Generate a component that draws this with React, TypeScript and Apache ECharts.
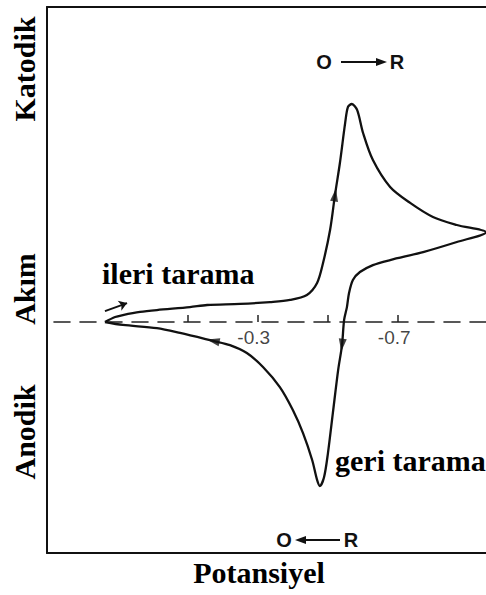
import React, { useEffect, useRef } from "react";
import * as echarts from "echarts";

// Potential (V) and current (µA, cathodic positive)
const potentialForward = [0.135, 0.106, 0.084, 0.035, -0.013, -0.107, -0.156, -0.25, -0.335, -0.392, -0.44, -0.469, -0.486, -0.506, -0.52, -0.534, -0.549, -0.557, -0.568, -0.583, -0.6, -0.628, -0.677, -0.734, -0.799, -0.867, -0.95];
const currentForward = [0, 0.24, 0.33, 0.48, 0.57, 0.71, 0.81, 0.86, 0.95, 1.05, 1.29, 1.86, 2.81, 4.38, 6.05, 7.57, 9.48, 10.24, 10.38, 10.1, 9.0, 7.71, 6.43, 5.67, 5.0, 4.62, 4.27];
const potentialReverse = [-0.867, -0.771, -0.677, -0.628, -0.591, -0.571, -0.56, -0.554, -0.546, -0.54, -0.529, -0.514, -0.5, -0.489, -0.477, -0.469, -0.455, -0.429, -0.4, -0.363, -0.315, -0.269, -0.221, -0.173, -0.079, -0.013, 0.084, 0.135];
const currentReverse = [3.81, 3.33, 2.95, 2.71, 2.38, 2.0, 1.38, 0.71, 0.1, -1.1, -2.29, -4.33, -6.24, -7.38, -7.81, -7.52, -6.57, -5.29, -4.19, -3.1, -2.14, -1.48, -1.1, -0.9, -0.52, -0.29, -0.14, 0];

// direction markers on the curve: [potential, current, rotation deg]
const arrowMarks: [number, number, number][] = [
  [-0.52, 6.05, -8],
  [-0.54, -1.1, 173],
  [-0.173, -0.9, 78],
];
// small "forward scan" arrow near start
const startArrowFrom = [0.135, 0.52];
const startArrowTo = [0.072, 0.9];

const tickValues = [-0.1, -0.3, -0.5, -0.7];
const labelValues = [-0.3, -0.7];

const xMin = -0.95;
const xMax = 0.3;
const yMin = -11;
const yMax = 15;

const serif = '"Liberation Serif", "Times New Roman", serif';
const sans = '"Liberation Sans", Arial, sans-serif';

export default function App() {
  const ref = useRef<HTMLDivElement>(null);
  useEffect(() => {
    if (!ref.current) return;
    const chart = echarts.init(ref.current, null, { renderer: "svg" });
    const curve: number[][] = [];
    potentialForward.forEach((e, k) => curve.push([e, currentForward[k]]));
    potentialReverse.forEach((e, k) => curve.push([e, currentReverse[k]]));

    const frameLine = { show: true, onZero: false, lineStyle: { color: "#111", width: 2 } };
    const baseX = {
      type: "value",
      min: xMin,
      max: xMax,
      inverse: true,
      splitLine: { show: false },
      axisTick: { show: false },
      axisLabel: { show: false },
    };

    const bigText = (text: string, x: number, y: number, rot = 0, align = "center") => ({
      type: "text",
      x,
      y,
      rotation: rot,
      style: {
        text,
        font: `bold 30px ${serif}`,
        fill: "#000",
        textAlign: align,
        textVerticalAlign: "middle",
      },
    });
    const orText = (text: string, x: number, y: number) => ({
      type: "text",
      x,
      y,
      style: {
        text,
        font: `bold 20px ${sans}`,
        fill: "#111",
        textAlign: "center",
        textVerticalAlign: "middle",
      },
    });

    chart.setOption({
      animation: false,
      backgroundColor: "#fff",
      grid: { left: 47, right: 0, top: 7, bottom: 42 },
      xAxis: [
        { ...baseX, position: "bottom", axisLine: frameLine },
        { ...baseX, position: "top", axisLine: frameLine },
        {
          ...baseX,
          position: "bottom",
          axisLine: {
            show: true,
            onZero: true,
            lineStyle: { color: "#222", width: 1.6, type: [16, 10] },
          },
          axisTick: {
            show: true,
            inside: true,
            length: 7,
            customValues: tickValues,
            lineStyle: { color: "#222", width: 1.5 },
          },
        },
      ],
      yAxis: {
        type: "value",
        min: yMin,
        max: yMax,
        axisLine: frameLine,
        axisTick: { show: false },
        axisLabel: { show: false },
        splitLine: { show: false },
      },
      series: [
        {
          type: "line",
          xAxisIndex: 2,
          data: curve,
          smooth: 0.3,
          showSymbol: false,
          lineStyle: { color: "#111", width: 2.3 },
          markLine: {
            silent: true,
            symbol: ["none", "arrow"],
            symbolSize: 8,
            label: { show: false },
            lineStyle: { color: "#111", width: 2, type: "solid" },
            data: [[{ coord: startArrowFrom }, { coord: startArrowTo }]],
          },
        },
        {
          type: "scatter",
          xAxisIndex: 2,
          symbol: "triangle",
          symbolSize: [8, 13],
          itemStyle: { color: "#111" },
          data: arrowMarks.map((a) => ({ value: [a[0], a[1]], symbolRotate: a[2] })),
        },
        {
          type: "scatter",
          xAxisIndex: 2,
          symbol: "circle",
          symbolSize: 1,
          itemStyle: { color: "rgba(0,0,0,0)" },
          silent: true,
          data: labelValues.map((v) => [v, 0]),
          label: {
            show: true,
            position: "bottom",
            distance: 5,
            offset: [-4, 0],
            color: "#111",
            fontFamily: sans,
            fontSize: 19,
            fontWeight: 500,
            formatter: (p: any) => p.value[0].toFixed(1),
          },
        },
      ],
      graphic: [
        bigText("Katodik", 24, 69, Math.PI / 2),
        bigText("Akım", 24, 289, Math.PI / 2),
        bigText("Anodik", 24, 432, Math.PI / 2),
        bigText("ileri tarama", 102, 273, 0, "left"),
        bigText("geri tarama", 335, 460, 0, "left"),
        bigText("Potansiyel", 259, 572),
        orText("O", 324, 62),
        { type: "line", shape: { x1: 341, y1: 62, x2: 378, y2: 62 }, style: { stroke: "#111", lineWidth: 2 } },
        { type: "polygon", shape: { points: [[376, 58], [387, 62], [376, 66]] }, style: { fill: "#111" } },
        orText("R", 397, 62),
        orText("O", 284, 540),
        { type: "line", shape: { x1: 304, y1: 540, x2: 340, y2: 540 }, style: { stroke: "#111", lineWidth: 2 } },
        { type: "polygon", shape: { points: [[306, 536], [295, 540], [306, 544]] }, style: { fill: "#111" } },
        orText("R", 351, 540),
      ],
    });
    return () => chart.dispose();
  }, []);
  return (
    <div
      ref={ref}
      style={{ position: "absolute", left: 0, top: 0, width: 486, height: 595 }}
    />
  );
}
